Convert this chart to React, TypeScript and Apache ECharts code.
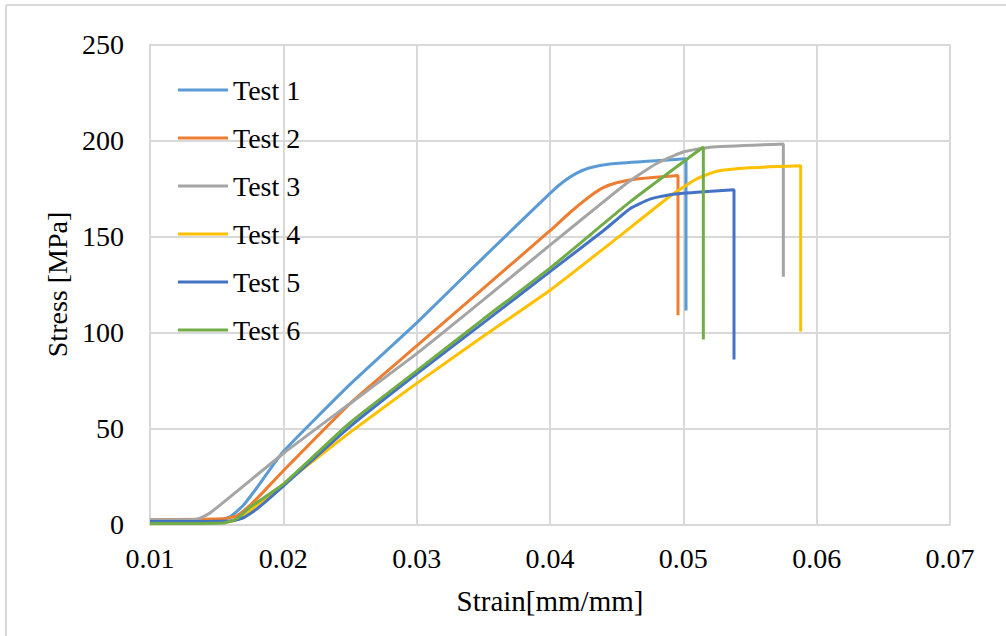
import React, { useEffect, useRef } from "react";
import * as echarts from "echarts";

const seriesNames = ["Test 1", "Test 2", "Test 3", "Test 4", "Test 5", "Test 6"];
const seriesColors = ["#5B9BD5", "#ED7D31", "#A5A5A5", "#FFC000", "#4472C4", "#70AD47"];

const xTicks = [0.01, 0.02, 0.03, 0.04, 0.05, 0.06, 0.07];
const yTicks = [0, 50, 100, 150, 200, 250];

const test1: [number, number][] = [
  [0.010, 1.5], [0.0150, 2], [0.0160, 4], [0.0170, 10], [0.0180, 19], [0.0200, 38],
  [0.0250, 73], [0.0300, 105], [0.0350, 139], [0.0400, 172.5], [0.0410, 178.5],
  [0.0420, 183], [0.0430, 185.8], [0.0445, 187.8], [0.0470, 189], [0.0502, 190.5], [0.0502, 111.5],
];
const test2: [number, number][] = [
  [0.010, 2.5], [0.0155, 3], [0.0165, 4.5], [0.0175, 10], [0.0185, 17], [0.0200, 28],
  [0.0250, 63], [0.0300, 93], [0.0350, 123], [0.0400, 153], [0.0415, 162.5],
  [0.0430, 171], [0.0440, 175.5], [0.0450, 178], [0.0465, 180], [0.0496, 181.8], [0.0496, 109],
];
const test3: [number, number][] = [
  [0.010, 2.5], [0.0135, 2.8], [0.0145, 6], [0.0200, 37], [0.0250, 63], [0.0300, 89],
  [0.0350, 117], [0.0400, 145.5], [0.0440, 168], [0.0460, 179], [0.0480, 188],
  [0.0500, 194], [0.0520, 196.5], [0.0575, 198.2], [0.0575, 129],
];
const test4: [number, number][] = [
  [0.010, 1], [0.0160, 1.5], [0.0170, 4], [0.0180, 10], [0.0200, 21], [0.0250, 48],
  [0.0300, 73.5], [0.0350, 98], [0.0400, 122], [0.0450, 149], [0.0490, 171],
  [0.0510, 180], [0.0525, 184], [0.0550, 185.8], [0.0588, 186.8], [0.0588, 100.5],
];
const test5: [number, number][] = [
  [0.010, 1.5], [0.0160, 1.8], [0.0170, 3.5], [0.0180, 8], [0.0200, 20], [0.0250, 51],
  [0.0300, 78.5], [0.0350, 105], [0.0400, 131.7], [0.0440, 153], [0.0460, 164.5],
  [0.0475, 169.5], [0.0490, 171.8], [0.0510, 173], [0.0538, 174.3], [0.0538, 86],
];
const test6: [number, number][] = [
  [0.010, 0.5], [0.0155, 0.8], [0.0165, 3], [0.0175, 9], [0.0200, 21], [0.0250, 53],
  [0.0300, 80], [0.0350, 107], [0.0400, 133.5], [0.0460, 168], [0.0515, 196.6],
  [0.0515, 96.4],
];

const allData = [test1, test2, test3, test4, test5, test6];

const FONT = "Liberation Serif";

export default function App() {
  const ref = useRef<HTMLDivElement>(null);
  useEffect(() => {
    document.body.style.margin = "0";
    if (!ref.current) return;
    const chart = echarts.init(ref.current, undefined, { renderer: "svg" });
    chart.setOption({
      animation: false,
      backgroundColor: "#ffffff",
      textStyle: { fontFamily: FONT },
      grid: { left: 150, right: 56, top: 44.5, bottom: 111.5 },
      legend: {
        orient: "vertical",
        left: 178,
        top: 76,
        padding: 0,
        icon: "rect",
        itemWidth: 50,
        itemHeight: 3,
        itemGap: 20,
        data: seriesNames,
        textStyle: { fontFamily: FONT, fontSize: 28, color: "#000", lineHeight: 28 },
      },
      xAxis: {
        type: "value",
        min: xTicks[0],
        max: xTicks[xTicks.length - 1],
        interval: 0.01,
        name: "Strain[mm/mm]",
        nameLocation: "middle",
        nameGap: 62,
        nameTextStyle: { fontFamily: FONT, fontSize: 29, color: "#000" },
        axisLine: { show: true, lineStyle: { color: "#d9d9d9", width: 2 } },
        axisTick: { show: false },
        axisLabel: {
          margin: 20,
          fontFamily: FONT,
          fontSize: 28,
          color: "#000",
          formatter: (v: number) => v.toFixed(2),
        },
        splitLine: { show: true, lineStyle: { color: "#d9d9d9", width: 2 } },
      },
      yAxis: {
        type: "value",
        min: yTicks[0],
        max: yTicks[yTicks.length - 1],
        interval: 50,
        name: "Stress [MPa]",
        nameLocation: "middle",
        nameGap: 78,
        nameTextStyle: { fontFamily: FONT, fontSize: 28, color: "#000" },
        axisLine: { show: true, lineStyle: { color: "#d9d9d9", width: 2 } },
        axisTick: { show: false },
        axisLabel: { margin: 26, fontFamily: FONT, fontSize: 28, color: "#000" },
        splitLine: { show: true, lineStyle: { color: "#d9d9d9", width: 2 } },
      },
      series: seriesNames.map((name, i) => ({
        name,
        type: "line",
        data: allData[i],
        showSymbol: false,
        symbol: "none",
        smooth: 0.15,
        lineStyle: { color: seriesColors[i], width: 3 },
        itemStyle: { color: seriesColors[i] },
      })),
      graphic: [
        { type: "line", shape: { x1: 6, y1: 5, x2: 6, y2: 636 }, style: { stroke: "#d9d9d9", lineWidth: 2 } },
        { type: "line", shape: { x1: 6, y1: 5, x2: 1006, y2: 5 }, style: { stroke: "#d9d9d9", lineWidth: 2 } },
      ],
    });
    return () => chart.dispose();
  }, []);
  return <div ref={ref} style={{ width: 1006, height: 636 }} />;
}
